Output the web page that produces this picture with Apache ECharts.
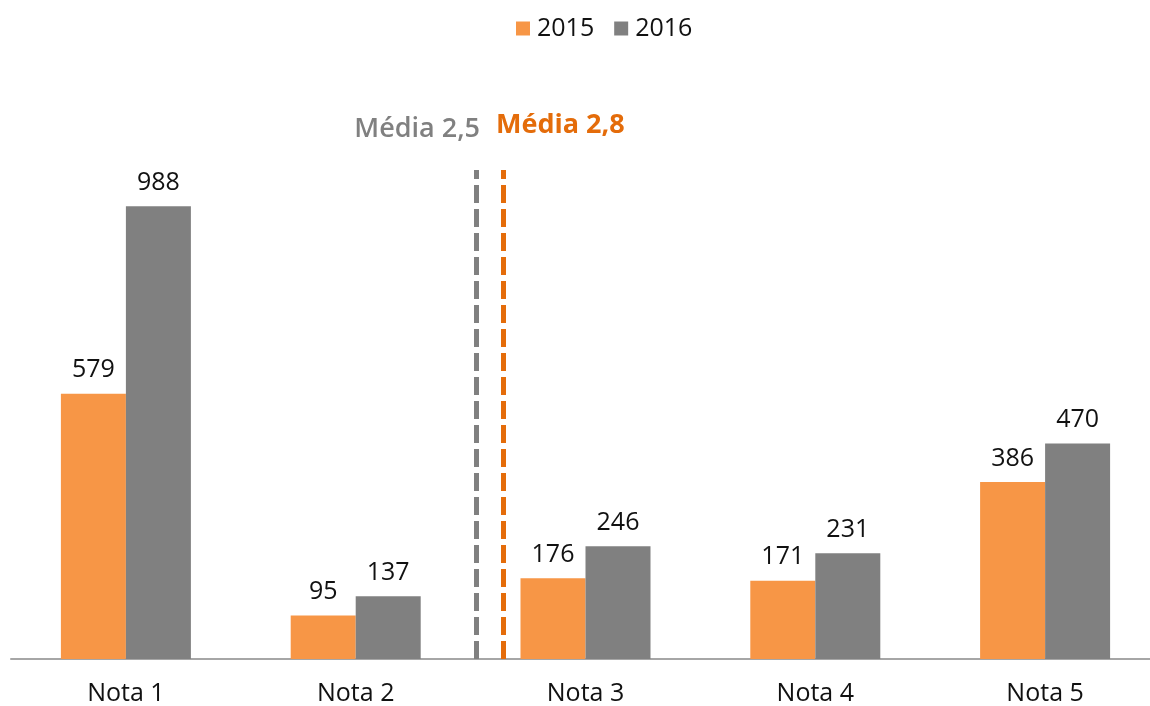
<!DOCTYPE html>
<html><head><meta charset="utf-8">
<script src="https://cdn.jsdelivr.net/npm/echarts@6/dist/echarts.min.js"></script>
<style>html,body{margin:0;padding:0;background:#fff}#c{width:1150px;height:706px}</style>
</head><body><div id="c"></div>
<script>
const categories = ['Nota 1', 'Nota 2', 'Nota 3', 'Nota 4', 'Nota 5'];
const seriesNames = ['2015', '2016'];
const values2015 = [579, 95, 176, 171, 386];
const values2016 = [988, 137, 246, 231, 470];
const mediaLabels = ['Média 2,5', 'Média 2,8'];
const mediaPositions = [2.5235, 2.641];  // position on the category scale (Nota 1 = 1)
const mediaLineTop = 1067;               // top of the dashed lines in value units

const font = '"Open Sans", "Noto Sans", sans-serif';
const chart = echarts.init(document.getElementById('c'));
chart.setOption({
  animation: false,
  textStyle: { fontFamily: font },
  legend: {
    top: 11, left: 511, itemWidth: 14, itemHeight: 14, itemGap: 20,
    icon: 'rect',
    data: seriesNames,
    textStyle: { fontSize: 25, color: '#111', fontFamily: font, padding: [0, 0, 0, 2] }
  },
  grid: { left: 11, width: 1149, top: 109, bottom: 47, outerBoundsMode: 'none', containLabel: false },
  xAxis: [{
    type: 'category', data: categories,
    axisLine: { lineStyle: { color: '#A6A6A6', width: 2 } },
    axisTick: { show: false },
    axisLabel: { fontSize: 25, color: '#111', margin: 22, fontFamily: font }
  }, {
    type: 'value', min: 0.5, max: 5.5, show: false
  }],
  yAxis: { type: 'value', min: 0, max: 1200, show: false, splitLine: { show: false } },
  series: [{
    name: seriesNames[0], type: 'bar', data: values2015, barWidth: 65, barGap: '0%',
    itemStyle: { color: '#F79646' },
    label: { show: true, position: 'top', fontSize: 25, color: '#111', distance: 11, fontFamily: font }
  }, {
    name: seriesNames[1], type: 'bar', data: values2016, barWidth: 65, barGap: '0%',
    itemStyle: { color: '#808080' },
    label: { show: true, position: 'top', fontSize: 25, color: '#111', distance: 11, fontFamily: font }
  }, {
    name: 'media', type: 'line', xAxisIndex: 1, data: [], silent: true,
    markLine: {
      symbol: 'none', silent: true, animation: false,
      data: [
        [{ coord: [mediaPositions[0], 0], lineStyle: { color: '#808080', width: 5, type: [18, 6] },
           label: { show: true, position: 'end', formatter: mediaLabels[0], color: '#808080', fontSize: 27, fontWeight: 600, fontFamily: font, align: 'right', offset: [4, -22] } },
         { coord: [mediaPositions[0], mediaLineTop] }],
        [{ coord: [mediaPositions[1], 0], lineStyle: { color: '#E46C0A', width: 5, type: [18, 6] },
           label: { show: true, position: 'end', formatter: mediaLabels[1], color: '#E46C0A', fontSize: 27, fontWeight: 'bold', fontFamily: font, align: 'left', offset: [-7, -26] } },
         { coord: [mediaPositions[1], mediaLineTop] }]
      ]
    }
  }]
});
</script></body></html>
